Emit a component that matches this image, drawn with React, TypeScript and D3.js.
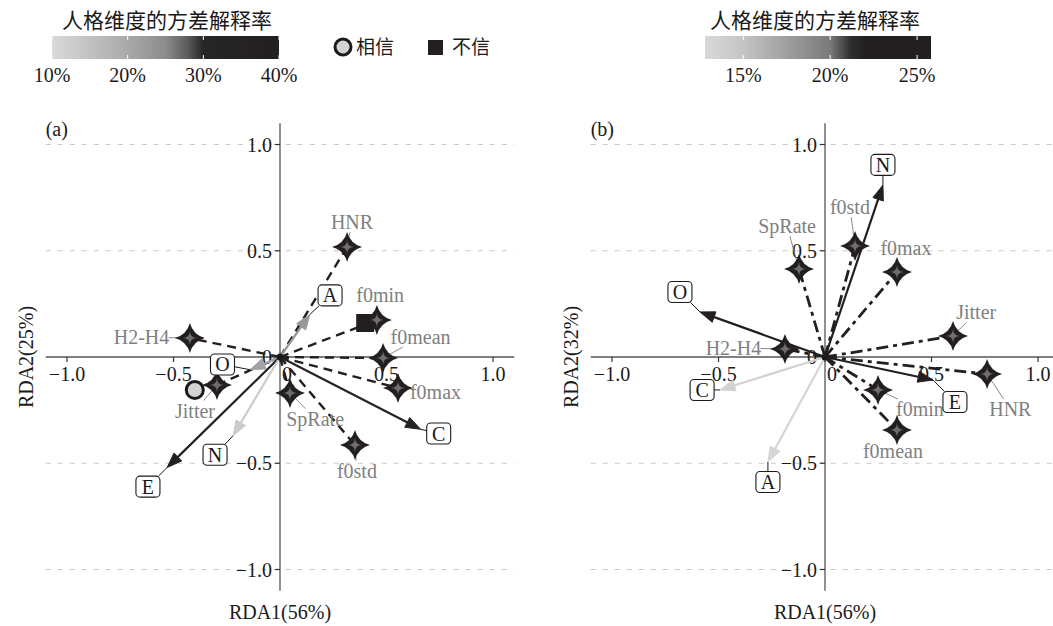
import React from "react";
import * as d3 from "d3";

const FONT = "Liberation Serif, Times New Roman, serif";
const CJK = "Noto Sans CJK SC, sans-serif";

// axis ticks
const tickValues = [-1, -0.5, 0, 0.5, 1];
const tickLabels = ["−1.0", "−0.5", "0", "0.5", "1.0"];
const gridValues = [-1, -0.5, 0.5, 1];

const panelNames = ["(a)", "(b)"];
const xTitles = ["RDA1(56%)", "RDA1(56%)"];
const yTitles = ["RDA2(25%)", "RDA2(32%)"];

const legendTitle = "人格维度的方差解释率";
const groupNames = ["相信", "不信"];

// panel (a): personality arrows
const traitsA = ["O", "C", "E", "A", "N"];
const traitXA = [-0.14, 0.66, -0.53, 0.14, -0.22];
const traitYA = [-0.06, -0.34, -0.52, 0.2, -0.37];
const traitVarA = [21, 33, 38, 23, 13];
const traitLabXA = [-0.27, 0.745, -0.62, 0.235, -0.305];
const traitLabYA = [-0.035, -0.36, -0.61, 0.29, -0.46];

// panel (a): acoustic features
const featA = ["HNR", "f0min", "f0mean", "f0max", "f0std", "SpRate", "H2-H4", "Jitter"];
const featXA = [0.315, 0.455, 0.484, 0.554, 0.352, 0.047, -0.423, -0.296];
const featYA = [0.518, 0.174, -0.005, -0.146, -0.414, -0.169, 0.089, -0.132];
const featLabXA = [0.338, 0.47, 0.66, 0.73, 0.361, 0.165, -0.65, -0.399];
const featLabYA = [0.635, 0.29, 0.094, -0.165, -0.535, -0.29, 0.094, -0.252];

// panel (a): group centroids
const groupXA = [-0.4, 0.4];
const groupYA = [-0.155, 0.16];

// panel (b): personality arrows
const traitsB = ["O", "C", "E", "A", "N"];
const traitXB = [-0.587, -0.493, 0.507, -0.268, 0.272];
const traitYB = [0.212, -0.155, -0.108, -0.494, 0.809];
const traitVarB = [23.5, 13.5, 23, 13.2, 24.5];
const traitLabXB = [-0.681, -0.577, 0.61, -0.268, 0.272];
const traitLabYB = [0.306, -0.155, -0.212, -0.588, 0.904];

// panel (b): acoustic features
const featB = ["f0std", "SpRate", "f0max", "Jitter", "HNR", "f0min", "f0mean", "H2-H4"];
const featXB = [0.141, -0.122, 0.338, 0.601, 0.761, 0.249, 0.338, -0.188];
const featYB = [0.522, 0.414, 0.4, 0.099, -0.08, -0.155, -0.344, 0.038];
const featLabXB = [0.117, -0.178, 0.38, 0.71, 0.87, 0.446, 0.319, -0.43];
const featLabYB = [0.705, 0.615, 0.513, 0.21, -0.245, -0.245, -0.44, 0.042];

// colour bars
const breaksA = [10, 20, 30, 40];
const breaksB = [15, 20, 25];
const colDomA = [10, 20, 25, 28, 30, 40];
const colDomB = [12.8, 15, 20, 21.2, 22, 25.8];
const colRangeA = ["#dadada", "#a9a9a9", "#8c8c8c", "#5a5a5a", "#262626", "#231f20"];
const colRangeB = ["#d9d9d9", "#c4c4c4", "#7a7a7a", "#2e2e2e", "#231f20", "#231f20"];

const colorA = d3.scaleLinear<string>().domain(colDomA).range(colRangeA);
const colorB = d3.scaleLinear<string>().domain(colDomB).range(colRangeB);

const UX = 213;
const UY = 212.5;

function starPath(cx: number, cy: number, r: number, a: number) {
  const p = d3.path();
  p.moveTo(cx, cy - r);
  p.quadraticCurveTo(cx + a, cy - a, cx + r, cy);
  p.quadraticCurveTo(cx + a, cy + a, cx, cy + r);
  p.quadraticCurveTo(cx - a, cy + a, cx - r, cy);
  p.quadraticCurveTo(cx - a, cy - a, cx, cy - r);
  p.closePath();
  return p.toString();
}

// point where the segment centre->p leaves a box of half sizes hw, hh
function edgePoint(cx: number, cy: number, px: number, py: number, hw: number, hh: number) {
  const dx = px - cx, dy = py - cy;
  const t = Math.min(dx === 0 ? Infinity : hw / Math.abs(dx), dy === 0 ? Infinity : hh / Math.abs(dy));
  if (t >= 1) return null;
  return [cx + t * dx, cy + t * dy];
}

type PanelProps = {
  x0: number; y0: number; idx: number;
  traits: string[]; tx: number[]; ty: number[]; tv: number[]; tlx: number[]; tly: number[];
  feats: string[]; fx: number[]; fy: number[]; flx: number[]; fly: number[];
  color: (v: number) => string;
  dash: string; lw: number;
  gx?: number[]; gy?: number[];
};

function Panel(p: PanelProps) {
  const x = d3.scaleLinear().domain([-1.1, 1.1]).range([p.x0 - 1.1 * UX, p.x0 + 1.1 * UX]);
  const y = d3.scaleLinear().domain([-1.1, 1.1]).range([p.y0 + 1.1 * UY, p.y0 - 1.1 * UY]);
  const ox = x(0), oy = y(0);
  const txt = { fontFamily: FONT };
  const fs = 20;

  return (
    <g style={txt}>
      {/* grid */}
      {gridValues.map((v) => (
        <line key={"g" + v} x1={x(-1.1)} x2={x(1.1)} y1={y(v)} y2={y(v)}
          stroke="#c8c8c8" strokeWidth={1} strokeDasharray="5,7" />
      ))}
      {/* axes */}
      <line x1={x(-1.1)} x2={x(1.1)} y1={oy} y2={oy} stroke="#555" strokeWidth={1.3} />
      <line x1={ox} x2={ox} y1={y(1.1)} y2={y(-1.1)} stroke="#555" strokeWidth={1.3} />
      {tickValues.map((v, i) => (
        <g key={"t" + v}>
          <line x1={x(v)} x2={x(v)} y1={oy} y2={oy + 5} stroke="#333" strokeWidth={1.2} />
          <text x={x(v) + (v === 0 ? 7 : 0)} y={oy + 24} fontSize={fs} textAnchor="middle" fill="#1a1a1a" style={txt}>{tickLabels[i]}</text>
          <line x1={ox - 5} x2={ox} y1={y(v)} y2={y(v)} stroke="#333" strokeWidth={1.2} />
          <text x={ox - 8} y={y(v) + 7} fontSize={fs} textAnchor="end" fill="#1a1a1a" style={txt}>{tickLabels[i]}</text>
        </g>
      ))}
      <text x={x(-1.1)} y={136} fontSize={fs} fill="#1a1a1a" style={txt}>{panelNames[p.idx]}</text>
      <text x={ox} y={y(-1.1) + 28} fontSize={fs} textAnchor="middle" fill="#1a1a1a" style={txt}>{xTitles[p.idx]}</text>
      <text transform={`translate(${x(-1.1) - 13},${oy}) rotate(-90)`} fontSize={fs} textAnchor="middle" fill="#1a1a1a" style={txt}>{yTitles[p.idx]}</text>

      {/* feature lines */}
      {p.feats.map((f, i) => (
        <line key={"fl" + f} x1={ox} y1={oy} x2={x(p.fx[i])} y2={y(p.fy[i])}
          stroke="#231f20" strokeWidth={p.lw} strokeDasharray={p.dash} />
      ))}

      {/* trait arrows */}
      {p.traits.map((t, i) => {
        const ex = x(p.tx[i]), ey = y(p.ty[i]);
        const dx = ex - ox, dy = ey - oy;
        const len = Math.hypot(dx, dy);
        const ux = dx / len, uy = dy / len;
        const hl = 15, hw = 5.5;
        const bx = ex - ux * hl, by = ey - uy * hl;
        const c = p.color(p.tv[i]);
        return (
          <g key={"a" + t}>
            <line x1={ox} y1={oy} x2={bx + ux * 2} y2={by + uy * 2} stroke={c} strokeWidth={2.2} />
            <path d={`M${ex},${ey}L${bx - uy * hw},${by + ux * hw}L${bx + uy * hw},${by - ux * hw}Z`} fill={c} stroke={c} strokeWidth={1} />
          </g>
        );
      })}

      {/* group centroids */}
      {p.gx && p.gy && (
        <g>
          <circle cx={x(p.gx[0])} cy={y(p.gy[0])} r={8.5} fill="#d3d3d3" stroke="#1a1a1a" strokeWidth={3} />
          <rect x={x(p.gx[1]) - 9} y={y(p.gy[1]) - 9} width={18} height={18} fill="#231f20" />
        </g>
      )}

      {/* connectors for feature labels */}
      {p.feats.map((f, i) => {
        const px = x(p.fx[i]), py = y(p.fy[i]);
        const cx = x(p.flx[i]), cy = y(p.fly[i]);
        const e = edgePoint(cx, cy, px, py, f.length * 5 + 2, 10);
        if (!e || Math.hypot(px - e[0], py - e[1]) < 15) return null;
        return <line key={"fc" + f} x1={e[0]} y1={e[1]} x2={px} y2={py} stroke="#7f7f7f" strokeWidth={0.9} />;
      })}

      {/* stars */}
      {p.feats.map((f, i) => {
        const px = x(p.fx[i]), py = y(p.fy[i]);
        return (
          <g key={"s" + f}>
            <path d={starPath(px, py, 15, 3.2)} fill="#231f20" />
            <path d={starPath(px, py, 7, 0.2)} fill="#6e6e6e" />
          </g>
        );
      })}

      {/* feature labels */}
      {p.feats.map((f, i) => (
        <text key={"ft" + f} x={x(p.flx[i])} y={y(p.fly[i]) + 7} fontSize={fs} textAnchor="middle" fill="#7f7f7f" style={txt}>{f}</text>
      ))}

      {/* trait label boxes */}
      {p.traits.map((t, i) => {
        const ex = x(p.tx[i]), ey = y(p.ty[i]);
        const cx = x(p.tlx[i]), cy = y(p.tly[i]);
        const e = edgePoint(cx, cy, ex, ey, 12, 10.5);
        return (
          <g key={"b" + t}>
            {e && Math.hypot(ex - e[0], ey - e[1]) > 3 && (
              <line x1={e[0]} y1={e[1]} x2={ex} y2={ey} stroke="#1a1a1a" strokeWidth={1} />
            )}
            <rect x={cx - 12} y={cy - 10.5} width={24} height={21} rx={4} fill="#fff" stroke="#1a1a1a" strokeWidth={1.1} />
            <text x={cx} y={cy + 7} fontSize={fs} textAnchor="middle" fill="#1a1a1a" style={txt}>{t}</text>
          </g>
        );
      })}

      <circle cx={ox} cy={oy} r={3.5} fill="#1a1a1a" />
    </g>
  );
}

type BarProps = { id: string; x0: number; x1: number; dom: number[]; range: string[]; breaks: number[]; tx: number };

function ColorBar(b: BarProps) {
  const lo = b.dom[0], hi = b.dom[b.dom.length - 1];
  const s = d3.scaleLinear().domain([lo, hi]).range([b.x0, b.x1]);
  const top = 36, h = 23;
  return (
    <g>
      <defs>
        <linearGradient id={b.id} x1="0" x2="1" y1="0" y2="0">
          {b.dom.map((d, i) => (
            <stop key={i} offset={`${((d - lo) / (hi - lo)) * 100}%`} stopColor={b.range[i]} />
          ))}
        </linearGradient>
      </defs>
      <text x={b.tx} y={28} fontSize={21} textAnchor="middle" style={{ fontFamily: CJK }} fill="#1a1a1a">{legendTitle}</text>
      <rect x={b.x0} y={top} width={b.x1 - b.x0} height={h} fill={`url(#${b.id})`} />
      {b.breaks.map((v) => (
        <g key={v}>
          <line x1={s(v)} x2={s(v)} y1={top} y2={top + 4} stroke="#fff" strokeWidth={1} />
          <line x1={s(v)} x2={s(v)} y1={top + h - 4} y2={top + h} stroke="#fff" strokeWidth={1} />
          <text x={s(v)} y={82} fontSize={20} textAnchor="middle" style={{ fontFamily: FONT }} fill="#1a1a1a">{v}%</text>
        </g>
      ))}
    </g>
  );
}

export default function App() {
  return (
    <svg width={1053} height={626} style={{ position: "absolute", left: 0, top: 0, background: "#fff" }}>
      <rect width={1053} height={626} fill="#fff" />
      <ColorBar id="gradA" x0={52} x1={279} dom={colDomA} range={colRangeA} breaks={breaksA} tx={167} />
      <ColorBar id="gradB" x0={705} x1={931} dom={colDomB} range={colRangeB} breaks={breaksB} tx={815} />

      {/* group legend */}
      <circle cx={343} cy={47} r={8} fill="#d3d3d3" stroke="#1a1a1a" strokeWidth={3} />
      <text x={356} y={54} fontSize={19} style={{ fontFamily: CJK }} fill="#1a1a1a">{groupNames[0]}</text>
      <rect x={428} y={40} width={15} height={15} fill="#231f20" />
      <text x={452} y={54} fontSize={19} style={{ fontFamily: CJK }} fill="#1a1a1a">{groupNames[1]}</text>

      <Panel x0={280} y0={357} idx={0}
        traits={traitsA} tx={traitXA} ty={traitYA} tv={traitVarA} tlx={traitLabXA} tly={traitLabYA}
        feats={featA} fx={featXA} fy={featYA} flx={featLabXA} fly={featLabYA}
        color={colorA} dash="9,6" lw={2.4} gx={groupXA} gy={groupYA} />
      <Panel x0={825} y0={357} idx={1}
        traits={traitsB} tx={traitXB} ty={traitYB} tv={traitVarB} tlx={traitLabXB} tly={traitLabYB}
        feats={featB} fx={featXB} fy={featYB} flx={featLabXB} fly={featLabYB}
        color={colorB} dash="12,5,4,5" lw={2.8} />
    </svg>
  );
}
